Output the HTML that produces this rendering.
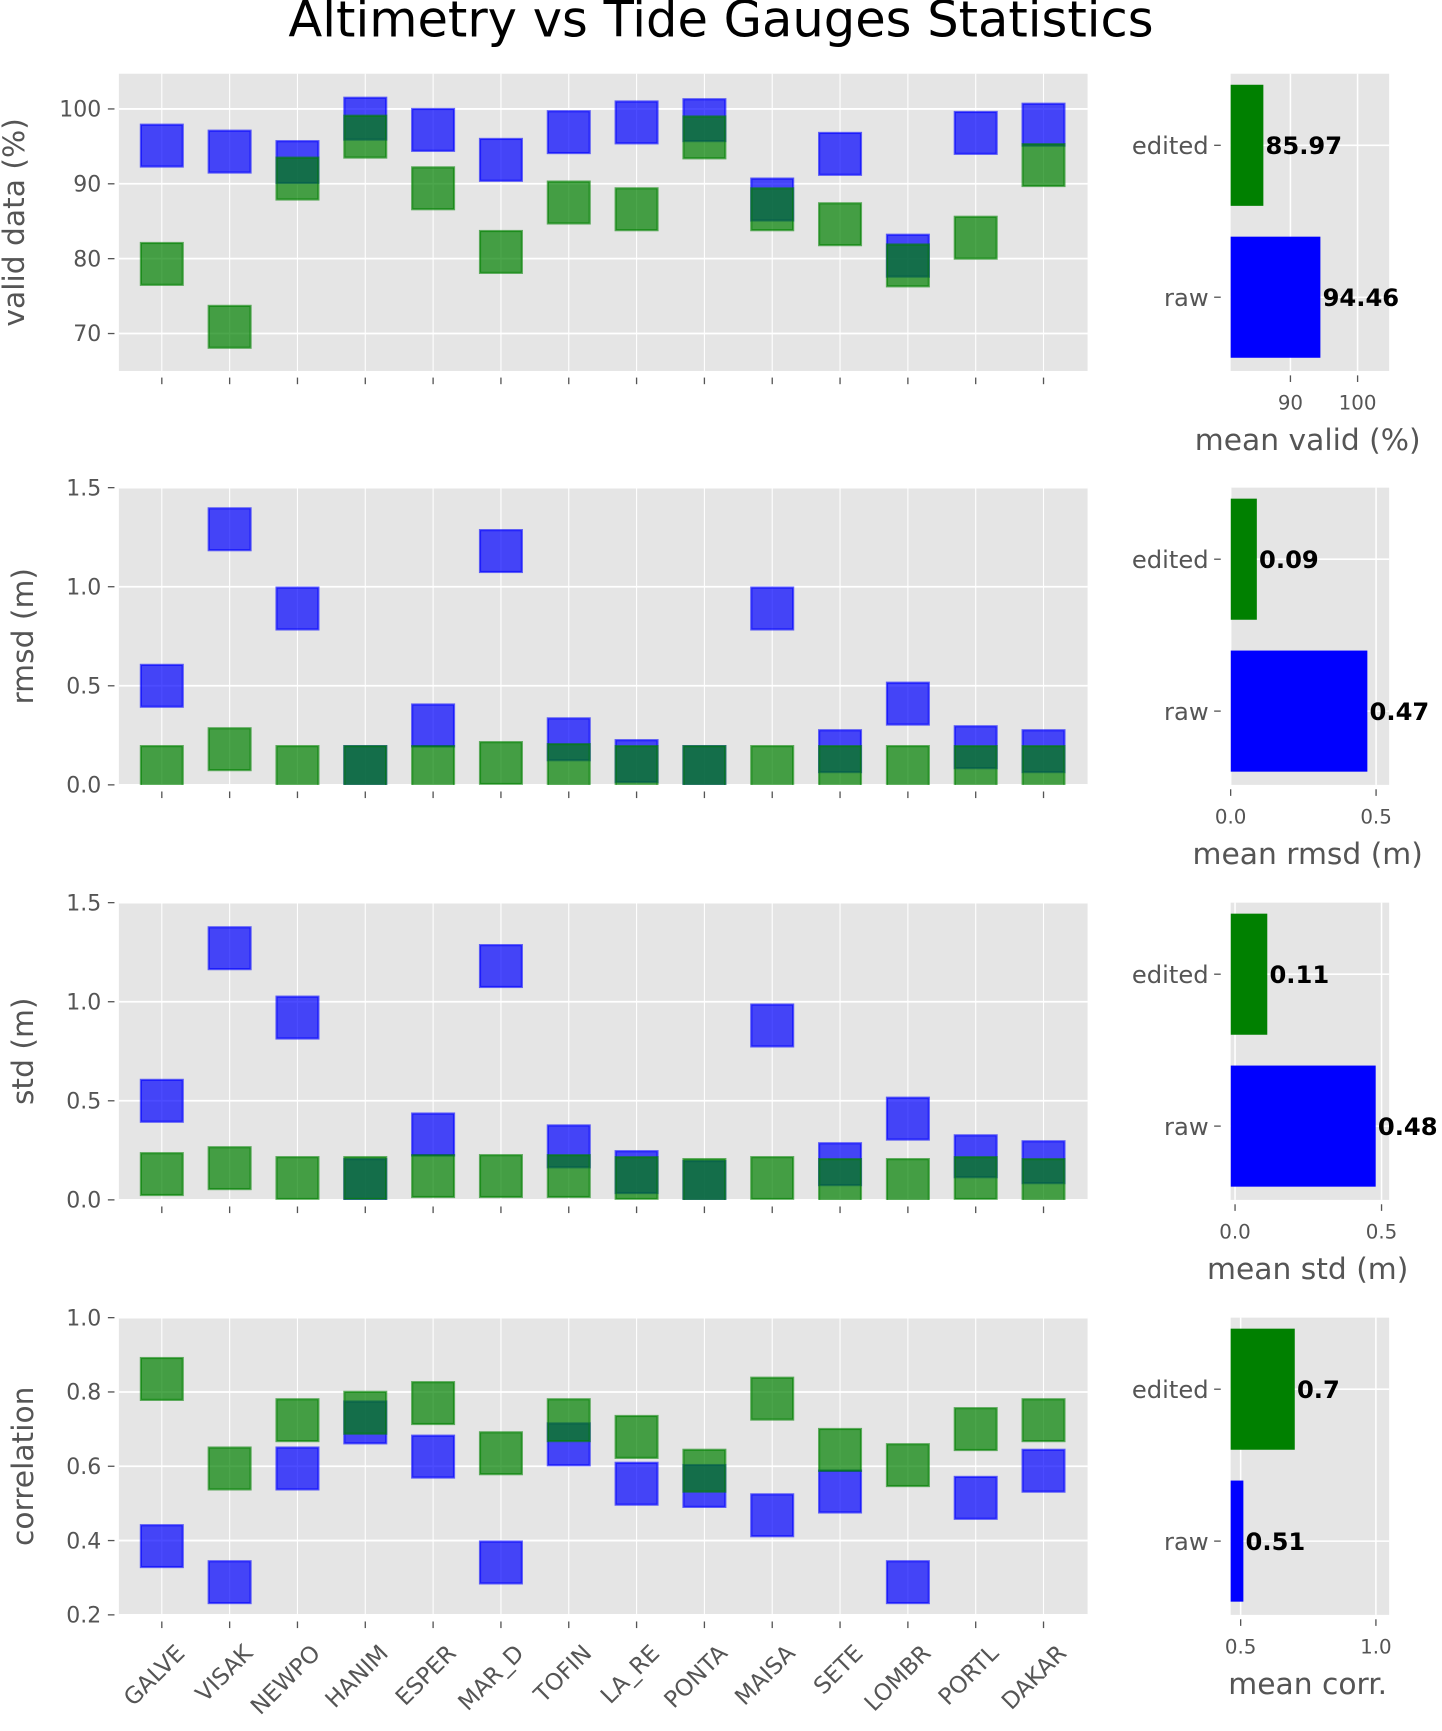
<!DOCTYPE html>
<html><head><meta charset="utf-8"><style>
html,body{margin:0;padding:0;background:#fff}
svg{display:block}
text{font-family:"DejaVu Sans","Liberation Sans",sans-serif}
</style></head><body>
<svg id="chart" width="1442" height="1731" viewBox="0 0 1310 1572.5" preserveAspectRatio="none" xmlns="http://www.w3.org/2000/svg">
<text x="655" y="33" text-anchor="middle" font-size="45" fill="#000">Altimetry vs Tide Gauges Statistics</text>
</svg>
<script>
const stations = ["GALVE","VISAK","NEWPO","HANIM","ESPER","MAR_D","TOFIN","LA_RE","PONTA","MAISA","SETE","LOMBR","PORTL","DAKAR"];
const validRaw = [95.1,94.3,92.9,98.7,97.2,93.2,96.9,98.2,98.5,87.9,94.0,80.4,96.8,97.9];
const validEdited = [79.3,70.9,90.7,96.3,89.4,80.9,87.5,86.6,96.2,86.6,84.6,79.1,82.8,92.5];
const rmsdRaw = [0.50,1.29,0.89,0.09,0.30,1.18,0.23,0.12,0.09,0.89,0.17,0.41,0.19,0.17];
const rmsdEdited = [0.09,0.18,0.09,0.09,0.09,0.11,0.10,0.09,0.09,0.09,0.09,0.09,0.09,0.09];
const stdRaw = [0.50,1.27,0.92,0.10,0.33,1.18,0.27,0.14,0.09,0.88,0.18,0.41,0.22,0.19];
const stdEdited = [0.13,0.16,0.11,0.11,0.12,0.12,0.12,0.11,0.10,0.11,0.10,0.10,0.11,0.10];
const corrRaw = [0.385,0.288,0.594,0.718,0.626,0.341,0.659,0.553,0.547,0.468,0.532,0.288,0.515,0.588];
const corrEdited = [0.835,0.594,0.724,0.744,0.77,0.635,0.724,0.679,0.588,0.782,0.644,0.603,0.70,0.724];
const meanLabels = ["edited","raw"];
const meanValid = [85.97,94.46];
const meanRmsd = [0.09,0.47];
const meanStd = [0.11,0.48];
const meanCorr = [0.7,0.51];
const validTicks = [70,80,90,100];
const errTicks = [0.0,0.5,1.0,1.5];
const corrTicks = [0.2,0.4,0.6,0.8,1.0];

const svg = document.getElementById('chart');
const NS = 'http://www.w3.org/2000/svg';
function mk(tag, attrs, parent){const e=document.createElementNS(NS,tag);for(const k in attrs)e.setAttribute(k,attrs[k]);(parent||svg).appendChild(e);return e;}
function fmt(v,d){return v.toFixed(d);}

const panels = [
 {top:67, ylim:[65.0,104.7], ticks:validTicks, dec:0, label:"valid data (%)", raw:validRaw, ed:validEdited, means:meanValid, xlim:[81.1,104.7], xticks:[90,100], xdec:0, xlabel:"mean valid (%)", name:"valid"},
 {top:443, ylim:[0,1.5], ticks:errTicks, dec:1, label:"rmsd (m)", raw:rmsdRaw, ed:rmsdEdited, means:meanRmsd, xlim:[0,0.545], xticks:[0,0.5], xdec:1, xlabel:"mean rmsd (m)", name:"rmsd"},
 {top:820, ylim:[0,1.5], ticks:errTicks, dec:1, label:"std (m)", raw:stdRaw, ed:stdEdited, means:meanStd, xlim:[-0.015,0.526], xticks:[0,0.5], xdec:1, xlabel:"mean std (m)", name:"std"},
 {top:1197, ylim:[0.2,1.0], ticks:corrTicks, dec:1, label:"correlation", raw:corrRaw, ed:corrEdited, means:meanCorr, xlim:[0.463,1.049], xticks:[0.5,1.0], xdec:1, xlabel:"mean corr.", name:"corr"}
];
const AX0=108, AX1=988, H=270, RX0=1118, RX1=1262;
const xStep=(948-147)/(stations.length-1);
function xCat(i){return 147+i*xStep;}
const MS=38;

panels.forEach((p,pi)=>{
  const T=p.top, B=T+H;
  const yS=v=>B-(v-p.ylim[0])/(p.ylim[1]-p.ylim[0])*H;
  const g=mk('g',{});
  
  
  mk('rect',{x:AX0,y:T,width:AX1-AX0,height:H,fill:'#e5e5e5'},g);
  const clip=mk('clipPath',{id:'c'+pi},g);
  mk('rect',{x:AX0,y:T,width:AX1-AX0,height:H},clip);
  p.ticks.forEach(t=>{
    const y=yS(t);
    mk('line',{x1:AX0,x2:AX1,y1:y,y2:y,stroke:'#fff','stroke-width':1.6},g);
    mk('line',{x1:98,x2:104,y1:y,y2:y,stroke:'#555','stroke-width':1.2},g);
    const tx=mk('text',{x:92,y:y+7,'text-anchor':'end','font-size':20,fill:'#555'},g);
    
    
    tx.textContent=fmt(t,p.dec);
  });
  stations.forEach((s,i)=>{
    const x=xCat(i);
    mk('line',{x1:x,x2:x,y1:T,y2:B,stroke:'#fff','stroke-width':1},g);
    mk('line',{x1:x,x2:x,y1:B+6,y2:B+12,stroke:'#555','stroke-width':1.2},g);
  });
  const mg=mk('g',{'clip-path':'url(#c'+pi+')'},g);
  [[p.raw,'#0000ff','raw'],[p.ed,'#008000','edited']].forEach(([arr,col,nm])=>{
    arr.forEach((v,i)=>{
      const r=mk('rect',{x:xCat(i)-MS/2,y:yS(v)-MS/2,width:MS,height:MS,fill:col,'fill-opacity':0.7,stroke:col,'stroke-opacity':0.6,'stroke-width':2},mg);
      
      
    });
  });
  const yl=mk('text',{transform:`translate(${pi==0?22:30},${T+H/2}) rotate(-90)`,'text-anchor':'middle','font-size':27,fill:'#555'},g);
  
  
  yl.textContent=p.label;

  const rg=mk('g',{});
  
  
  mk('rect',{x:RX0,y:T,width:RX1-RX0,height:H,fill:'#e5e5e5'},rg);
  const rclip=mk('clipPath',{id:'r'+pi},rg);
  mk('rect',{x:RX0,y:T,width:RX1-RX0,height:H},rclip);
  const xS=v=>RX0+(v-p.xlim[0])/(p.xlim[1]-p.xlim[0])*(RX1-RX0);
  const cy=[T+65,T+203];
  cy.forEach(y=>mk('line',{x1:RX0,x2:RX1,y1:y,y2:y,stroke:'#fff','stroke-width':1.4},rg));
  p.xticks.forEach(t=>{
    const x=xS(t);
    mk('line',{x1:x,x2:x,y1:T,y2:B,stroke:'#fff','stroke-width':1.4},rg);
    mk('line',{x1:x,x2:x,y1:B+4,y2:B+10,stroke:'#555','stroke-width':1.2},rg);
    const tl=mk('text',{x:x,y:B+35,'text-anchor':'middle','font-size':18,fill:'#555'},rg);
    
    
    tl.textContent=fmt(t,p.xdec);
  });
  const bg=mk('g',{'clip-path':'url(#r'+pi+')'},rg);
  meanLabels.forEach((lab,k)=>{
    const y=cy[k];
    mk('line',{x1:1103,x2:1109,y1:y,y2:y,stroke:'#555','stroke-width':1.2},rg);
    const lt=mk('text',{x:1098,y:y+8,'text-anchor':'end','font-size':22,fill:'#555'},rg);
    
    
    lt.textContent=lab;
    const v=p.means[k];
    const x1=xS(v), x0=xS(Math.min(0,p.xlim[0]));
    const b=mk('rect',{x:Math.min(x0,x1),y:y-55,width:Math.abs(x1-x0),height:110,fill:k==0?'#008000':'#0000ff'},bg);
    
    
    const vt=mk('text',{x:x1+2,y:y+8,'font-size':22,'font-weight':'bold',fill:'#000'},rg);
    
    
    vt.textContent=String(v);
  });
  const xl=mk('text',{x:1188,y:B+72,'text-anchor':'middle','font-size':27,fill:'#555'},rg);
  
  
  xl.textContent=p.xlabel;

  if(pi==3){
    stations.forEach((s,i)=>{
      const x=xCat(i)+22;
      const t=mk('text',{transform:`translate(${x},${B+36}) rotate(-45)`,'text-anchor':'end','font-size':21,fill:'#555'},g);
      
      
      t.textContent=s;
    });
  }
});
</script>
</body></html>
